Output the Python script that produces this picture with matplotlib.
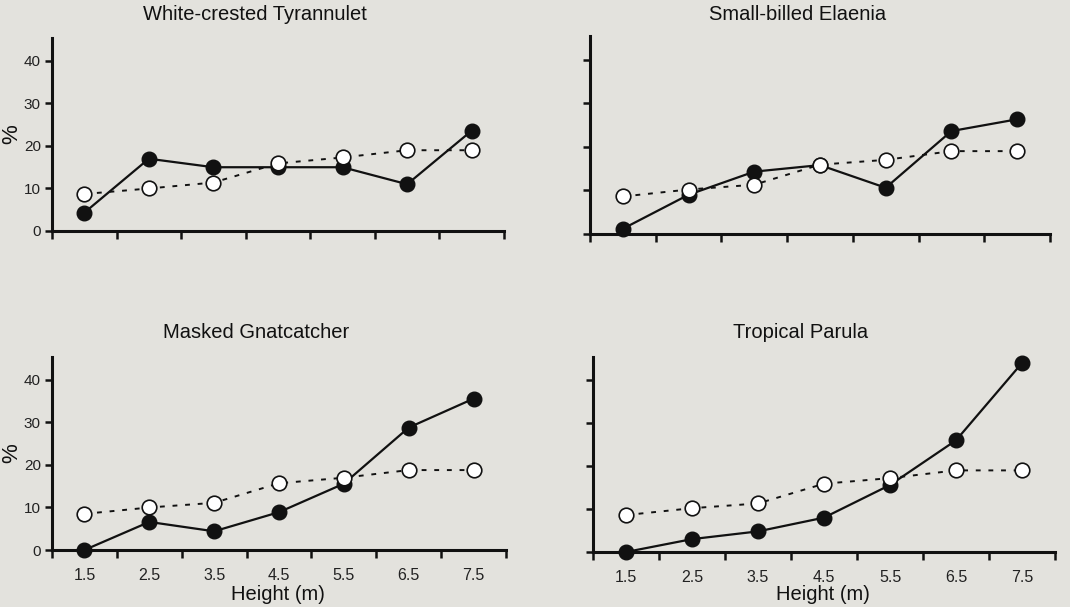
import matplotlib
matplotlib.use("Agg")
import matplotlib.pyplot as plt
from matplotlib.ticker import FixedLocator, NullFormatter, FixedFormatter

plt.rcParams['font.family'] = ['Liberation Sans', 'DejaVu Sans']

heights = [1.5, 2.5, 3.5, 4.5, 5.5, 6.5, 7.5]
height_labels = ["1.5", "2.5", "3.5", "4.5", "5.5", "6.5", "7.5"]
y_ticks = [0, 10, 20, 30, 40]

titles = ["White-crested Tyrannulet", "Small-billed Elaenia",
          "Masked Gnatcatcher", "Tropical Parula"]

tyrannulet_used = [4.3, 17.0, 15.0, 15.0, 15.0, 11.0, 23.6]
tyrannulet_avail = [8.7, 10.0, 11.4, 15.9, 17.3, 19.0, 19.0]
elaenia_used = [1.2, 9.0, 14.3, 15.8, 10.6, 23.6, 26.3]
elaenia_avail = [8.6, 10.2, 11.3, 15.9, 17.0, 19.0, 19.0]
gnatcatcher_used = [0.0, 6.6, 4.4, 8.9, 15.6, 28.8, 35.6]
gnatcatcher_avail = [8.5, 10.0, 11.1, 15.7, 17.0, 18.8, 18.8]
parula_used = [0.0, 3.0, 4.8, 8.0, 15.6, 26.0, 44.0]
parula_avail = [8.6, 10.2, 11.3, 15.9, 17.2, 19.0, 19.0]

used = [tyrannulet_used, elaenia_used, gnatcatcher_used, parula_used]
avail = [tyrannulet_avail, elaenia_avail, gnatcatcher_avail, parula_avail]

bg = "#e3e2dd"
fig = plt.figure(figsize=(10.7, 6.07), dpi=100, facecolor=bg)
W, H = 1070, 607
# (left, top-y of spine, right, bottom-y) in pixels
boxes = [(52, 38, 504, 231), (590, 36, 1050, 234),
         (52, 357, 506, 550), (593, 357, 1055, 552)]
title_pos = [(255, 15), (798, 15), (256, 333), (801, 333)]
xlabel_pos = [None, None, (278, 594), (823, 594)]

for i, (l, t, r, b) in enumerate(boxes):
    ax = fig.add_axes([l / W, (H - b) / H, (r - l) / W, (b - t) / H])
    ax.set_facecolor(bg)
    ax.set_xlim(1, 8)
    ax.set_ylim(0, 45.4)
    for s in ["top", "right"]:
        ax.spines[s].set_visible(False)
    for s in ["left", "bottom"]:
        ax.spines[s].set_linewidth(2.2)
        ax.spines[s].set_color("#111111")
    ax.plot(heights, used[i], color="#111111", lw=1.6, marker="o", ms=10.5,
            mfc="#111111", mec="#111111", zorder=3, clip_on=False)
    ax.plot(heights, avail[i], color="#111111", lw=1.4, ls=(0, (2.5, 4)),
            marker="o", ms=10.5, mfc="white", mec="#111111", mew=1.2,
            zorder=4, clip_on=False)
    ax.xaxis.set_major_locator(FixedLocator(list(range(1, 9))))
    ax.xaxis.set_major_formatter(NullFormatter())
    ax.xaxis.set_minor_locator(FixedLocator(heights))
    ax.tick_params(axis="x", which="major", direction="out", length=6,
                   width=1.8, color="#111111")
    ax.tick_params(axis="y", which="major", direction="out", length=5,
                   width=1.8, color="#111111", labelsize=11,
                   labelcolor="#222222", pad=3)
    ax.set_yticks(y_ticks)
    if i in (2, 3):
        ax.xaxis.set_minor_formatter(FixedFormatter(height_labels))
        ax.tick_params(axis="x", which="minor", length=0, labelsize=11.5,
                       labelcolor="#222222", pad=13)
        xx, xy = xlabel_pos[i]
        fig.text(xx / W, 1 - xy / H, "Height (m)", ha="center", va="center",
                 fontsize=14.5, color="#111111")
    else:
        ax.xaxis.set_minor_formatter(NullFormatter())
        ax.tick_params(axis="x", which="minor", length=0)
    if i in (1, 3):
        ax.set_yticklabels([])
    else:
        ax.set_ylabel("%", fontsize=16, color="#111111", labelpad=1)
    tx, ty = title_pos[i]
    fig.text(tx / W, 1 - ty / H, titles[i], ha="center", va="center",
             fontsize=14.5, color="#111111")

fig.savefig("out.png", dpi=100, facecolor=bg)
